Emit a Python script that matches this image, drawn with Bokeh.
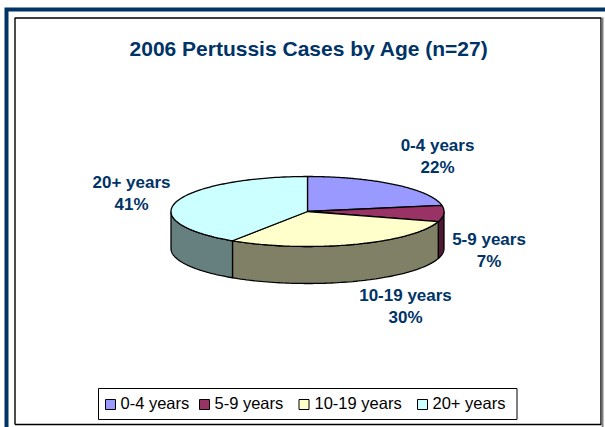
import numpy as np
from bokeh.plotting import figure
from bokeh.models import Range1d
from bokeh.core.properties import value
from bokeh.embed import file_html
from bokeh.resources import INLINE

title = "2006 Pertussis Cases by Age (n=27)"
categories = ["0-4 years", "5-9 years", "10-19 years", "20+ years"]
counts = [6, 2, 8, 11]
percents = ["22%", "7%", "30%", "41%"]
top_colors = ["#9999FF", "#993366", "#FFFFCC", "#CCFFFF"]
side_colors = ["#66669F", "#4D1A33", "#808066", "#668080"]
label_x = [437, 488.5, 405, 131]
label_y = [145, 239, 295, 182]
legend_sw = [105, 199, 298.5, 417]
legend_tx = [120, 214, 314, 432]

NAVY = "#003366"
FONT = "Liberation Sans"
W, H = 605, 427
cx, cy, rx, ry, depth = 307, 211, 136.5, 35, 37

p = figure(width=W, height=H, output_backend="svg", toolbar_location=None,
           x_range=Range1d(0, W), y_range=Range1d(H, 0), min_border=0,
           outline_line_color=None, background_fill_color="white",
           border_fill_color="white")
p.axis.visible = False
p.grid.visible = False
p.styles = {"position": "absolute", "left": "0px", "top": "0px"}

# frames
p.patch([4, 605, 605, 8, 8, 4], [7, 7, 11, 11, 427, 427], color=NAVY, line_width=0)
p.line([14.5, 14.5, 600.5, 600.5, 14.5], [424, 17.5, 17.5, 424, 424], color="black", line_width=1.4)
p.line([602, 602], [17, 427], color="#808080", line_width=2)

fr = np.cumsum([0] + counts) / sum(counts) * 2 * np.pi

def ex(t):
    return cx + rx * np.sin(t)

def ey(t):
    return cy - ry * np.cos(t)

# side walls (front half only)
for i in range(4):
    a, b = max(fr[i], np.pi / 2), min(fr[i + 1], 3 * np.pi / 2)
    if b <= a:
        continue
    t = np.linspace(a, b, 80)
    xs = np.r_[ex(t), ex(t[::-1])]
    ys = np.r_[ey(t), ey(t[::-1]) + depth]
    p.patch(xs, ys, fill_color=side_colors[i], line_color="black", line_width=1.3)

# top faces
for i in range(4):
    t = np.linspace(fr[i], fr[i + 1], 120)
    p.patch(np.r_[cx, ex(t)], np.r_[cy, ey(t)], fill_color=top_colors[i],
            line_color="black", line_width=1.3)

# labels
p.text([308.5], [48], text=[title], text_font=value(FONT), text_font_style="bold",
       text_font_size="21px", text_color=NAVY, text_align="center", text_baseline="middle")
for i in range(4):
    p.text([label_x[i]], [label_y[i]], text=[categories[i]], text_font=value(FONT),
           text_font_style="bold", text_font_size="17px", text_color=NAVY,
           text_align="center", text_baseline="middle")
    p.text([label_x[i]], [label_y[i] + 22], text=[percents[i]], text_font=value(FONT),
           text_font_style="bold", text_font_size="17px", text_color=NAVY,
           text_align="center", text_baseline="middle")

# legend
p.quad(left=[98], right=[516.5], top=[388], bottom=[419], fill_color="white",
       line_color="black", line_width=1)
for i in range(4):
    p.quad(left=[legend_sw[i]], right=[legend_sw[i] + 10], top=[399], bottom=[409],
           fill_color=top_colors[i], line_color="black", line_width=1)
    p.text([legend_tx[i]], [402.5], text=[categories[i]], text_font=value(FONT),
           text_font_size="16.5px", text_color="black", text_align="left",
           text_baseline="middle")

open("out.html", "w").write(file_html(p, INLINE))
